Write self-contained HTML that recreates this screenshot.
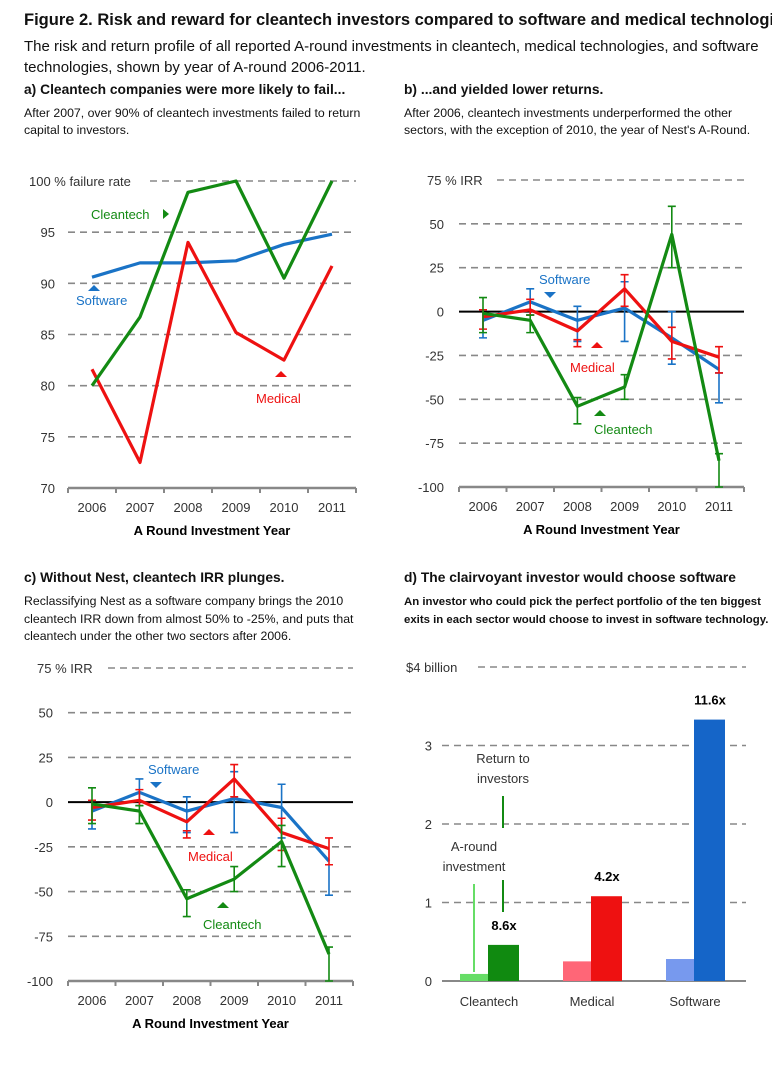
<!DOCTYPE html>
<html><head><meta charset="utf-8"><style>
body{margin:0;background:#fff;width:772px;height:1070px;overflow:hidden;font-family:"Liberation Sans",sans-serif;color:#111}
.t{position:absolute;white-space:nowrap}
svg{position:absolute;left:0;top:0}
svg text{font-family:"Liberation Sans",sans-serif}
</style></head><body>
<div class="t" style="left:24px;top:11px;font-size:16.5px;font-weight:bold">Figure 2. Risk and reward for cleantech investors compared to software and medical technologies</div>
<div class="t" style="left:24px;top:36px;font-size:15px;line-height:21px">The risk and return profile of all reported A-round investments in cleantech, medical technologies, and software<br>technologies, shown by year of A-round 2006-2011.</div>
<div class="t" style="left:24px;top:82px;font-size:13.8px;font-weight:bold">a) Cleantech companies were more likely to fail...</div>
<div class="t" style="left:24px;top:105px;font-size:12.3px;line-height:17px">After 2007, over 90% of cleantech investments failed to return<br>capital to investors.</div>
<div class="t" style="left:404px;top:82px;font-size:13.8px;font-weight:bold">b) ...and yielded lower returns.</div>
<div class="t" style="left:404px;top:105px;font-size:12.3px;line-height:17px">After 2006, cleantech investments underperformed the other<br>sectors, with the exception of 2010, the year of Nest's A-Round.</div>
<div class="t" style="left:24px;top:570px;font-size:13.8px;font-weight:bold">c) Without Nest, cleantech IRR plunges.</div>
<div class="t" style="left:24px;top:593px;font-size:12.3px;line-height:17.5px">Reclassifying Nest as a software company brings the 2010<br>cleantech IRR down from almost 50% to -25%, and puts that<br>cleantech under the other two sectors after 2006.</div>
<div class="t" style="left:404px;top:570px;font-size:13.8px;font-weight:bold">d) The clairvoyant investor would choose software</div>
<div class="t" style="left:404px;top:593px;font-size:11.4px;line-height:18px;font-weight:bold">An investor who could pick the perfect portfolio of the ten biggest<br>exits in each sector would choose to invest in software technology.</div>
<svg id="s" width="772" height="1070"></svg>
<script>
const years=[2006,2007,2008,2009,2010,2011];
const aClean=[80,86.7,98.9,100,90.5,100];
const aSoft=[90.6,92,92,92.2,93.8,94.8];
const aMed=[81.6,72.5,94,85.2,82.5,91.7];
const aTicks=[70,75,80,85,90,95,100];
const bClean=[-1,-5,-54,-43,44,-85];
const bCleanLo=[-12,-12,-64,-50,25,-100];
const bCleanHi=[8,-2,-49,-36,60,-81];
const bSoft=[-5,5.5,-5,2,-15,-33];
const bSoftLo=[-15,-2,-17,-17,-30,-52];
const bSoftHi=[1,13,3,17,0,-35];
const bMed=[-3,1,-11,13,-17,-26];
const bMedLo=[-10,-2,-20,3,-27,-35];
const bMedHi=[1,7,-16,21,-9,-20];
const cClean=[-1,-5,-54,-43,-22,-85];
const cCleanLo=[-12,-12,-64,-50,-36,-100];
const cCleanHi=[8,-2,-49,-36,-13,-81];
const cSoft=[-5,5.5,-5,2,-3,-33];
const cSoftLo=[-15,-2,-17,-17,-20,-52];
const cSoftHi=[1,13,3,17,10,-35];
const irrTicks=[-100,-75,-50,-25,0,25,50,75];
const dCats=["Cleantech","Medical","Software"];
const dInvest=[0.09,0.25,0.28];
const dReturn=[0.46,1.08,3.33];
const dMult=["8.6x","4.2x","11.6x"];
const dTicks=[0,1,2,3,4];
const G="#138a13",B="#1a73c6",R="#ee1111";
const s=document.getElementById('s');
function el(t,a,txt){const e=document.createElementNS('http://www.w3.org/2000/svg',t);for(const k in a)e.setAttribute(k,a[k]);if(txt!==undefined)e.textContent=txt;s.appendChild(e);return e;}
function panel(p){
 const X=i=>p.x0+(p.x1-p.x0)*i/5;
 const Y=v=>p.yb+(v-p.vmin)*(p.yt-p.yb)/(p.vmax-p.vmin);
 p.ticks.forEach(v=>{
  const lab=v===p.vmax?p.topLab(v):String(v);
  let t=el('text',{x:p.lx,y:Y(v)+5,'font-size':13,fill:'#333','text-anchor':v===p.vmax?'start':'end'},lab);
  
  
  if(v===p.vmax)t.setAttribute('x',p.topX);
  if(v!==p.vmin&&v!==0){let l=el('line',{x1:v===p.vmax?p.topGridX:p.ax0,x2:p.ax1,y1:Y(v),y2:Y(v),stroke:'#888','stroke-width':1.6,'stroke-dasharray':'7,5'});
   
   }
 });
 if(p.zero){let z=el('line',{x1:p.ax0,x2:p.ax1,y1:Y(0),y2:Y(0),stroke:'#000','stroke-width':2});
  
  }
 let ax=el('line',{x1:p.ax0,x2:p.ax1,y1:p.yb,y2:p.yb,stroke:'#888','stroke-width':2.5});
 
 
 for(let i=0;i<=6;i++){const xx=p.ax0+(p.ax1-p.ax0)*i/6;el('line',{x1:xx,x2:xx,y1:p.yb,y2:p.yb+5,stroke:'#888','stroke-width':2});}
 years.forEach((yr,i)=>{let t=el('text',{x:X(i),y:p.yb+24,'font-size':13,fill:'#333','text-anchor':'middle'},yr);
  
  });
 let xt=el('text',{x:(p.ax0+p.ax1)/2,y:p.yb+47,'font-size':13,'font-weight':'bold','text-anchor':'middle'},'A Round Investment Year');
 
 
 p.series.forEach(se=>{
  if(se.lo)se.v.forEach((v,i)=>{const x=X(i);
   el('path',{d:`M${x},${Y(se.lo[i])}V${Y(se.hi[i])}M${x-4},${Y(se.lo[i])}h8M${x-4},${Y(se.hi[i])}h8`,stroke:se.c,'stroke-width':1.6,fill:'none'});});
  let pl=el('polyline',{points:se.v.map((v,i)=>X(i)+','+Y(v)).join(' '),fill:'none',stroke:se.c,'stroke-width':3.2,'stroke-linejoin':'round'});
  
  
 });
 p.labels.forEach(L=>{let t=el('text',{x:L[0],y:L[1],'font-size':13,fill:L[2]},L[3]);
  
  
  el('path',{d:L[4],fill:L[2]});});
}
panel({x0:92,x1:332,ax0:68,ax1:356,yb:488,yt:181,vmin:70,vmax:100,ticks:aTicks,lx:55,topX:29,topGridX:150,topLab:v=>v+' % failure rate',
 series:[{v:aSoft,c:B,n:'software'},{v:aMed,c:R,n:'medical'},{v:aClean,c:G,n:'cleantech'}],
 labels:[[91,219,G,'Cleantech','M163,209l6,5l-6,5z'],[76,305,B,'Software','M88,291l6,-6l6,6z'],[256,403,R,'Medical','M275,377l6,-6l6,6z']]});
panel({x0:483,x1:719,ax0:459,ax1:744,yb:487,yt:180,vmin:-100,vmax:75,ticks:irrTicks,lx:444,topX:427,topGridX:497,topLab:v=>v+' % IRR',zero:true,
 series:[{v:bSoft,lo:bSoftLo,hi:bSoftHi,c:B,n:'software'},{v:bMed,lo:bMedLo,hi:bMedHi,c:R,n:'medical'},{v:bClean,lo:bCleanLo,hi:bCleanHi,c:G,n:'cleantech'}],
 labels:[[539,284,B,'Software','M544,292h12l-6,6z'],[570,372,R,'Medical','M591,348l6,-6l6,6z'],[594,434,G,'Cleantech','M594,416l6,-6l6,6z']]});
panel({x0:92,x1:329,ax0:68,ax1:353,yb:981,yt:668,vmin:-100,vmax:75,ticks:irrTicks,lx:53,topX:37,topGridX:108,topLab:v=>v+' % IRR',zero:true,
 series:[{v:cSoft,lo:cSoftLo,hi:cSoftHi,c:B,n:'software'},{v:bMed,lo:bMedLo,hi:bMedHi,c:R,n:'medical'},{v:cClean,lo:cCleanLo,hi:cCleanHi,c:G,n:'cleantech'}],
 labels:[[148,774,B,'Software','M150,782h12l-6,6z'],[188,861,R,'Medical','M203,835l6,-6l6,6z'],[203,929,G,'Cleantech','M217,908l6,-6l6,6z']]});
const dY=v=>981-v*78.5;
dTicks.forEach(v=>{
 let t=el('text',{x:v===4?406:432,y:dY(v)+5,'font-size':13,fill:'#333','text-anchor':v===4?'start':'end'},v===4?'$4 billion':String(v));
 
 
 if(v>0){let l=el('line',{x1:v===4?478:442,x2:746,y1:dY(v),y2:dY(v),stroke:'#888','stroke-width':1.6,'stroke-dasharray':'7,5'});
  
  }
});
let dax=el('line',{x1:442,x2:746,y1:981,y2:981,stroke:'#888','stroke-width':2});


const dLight=["#66dd66","#ff6677","#7799ee"],dDark=["#108a10","#ee1111","#1565c8"];
dCats.forEach((c,i)=>{
 const x=460+i*103;
 let b1=el('rect',{x:x,y:dY(dInvest[i]),width:28,height:dInvest[i]*78.5,fill:dLight[i]});
 
 
 let b2=el('rect',{x:x+28,y:dY(dReturn[i]),width:31,height:dReturn[i]*78.5,fill:dDark[i]});
 
 
 let m=el('text',{x:x+44,y:dY(dReturn[i])-15,'font-size':13,'font-weight':'bold','text-anchor':'middle'},dMult[i]);
 
 
 let t=el('text',{x:x+29,y:1006,'font-size':13,fill:'#333','text-anchor':'middle'},c);
 
 
});
[[503,763,'Return to'],[503,783,'investors'],[474,851,'A-round'],[474,871,'investment']].forEach(a=>{
 let t=el('text',{x:a[0],y:a[1],'font-size':13,fill:'#333','text-anchor':'middle'},a[2]);
 
 });
el('line',{x1:503,x2:503,y1:796,y2:828,stroke:G,'stroke-width':2});
el('line',{x1:503,x2:503,y1:880,y2:912,stroke:G,'stroke-width':2});
el('line',{x1:474,x2:474,y1:884,y2:972,stroke:'#66dd66','stroke-width':2});
</script>
</body></html>
